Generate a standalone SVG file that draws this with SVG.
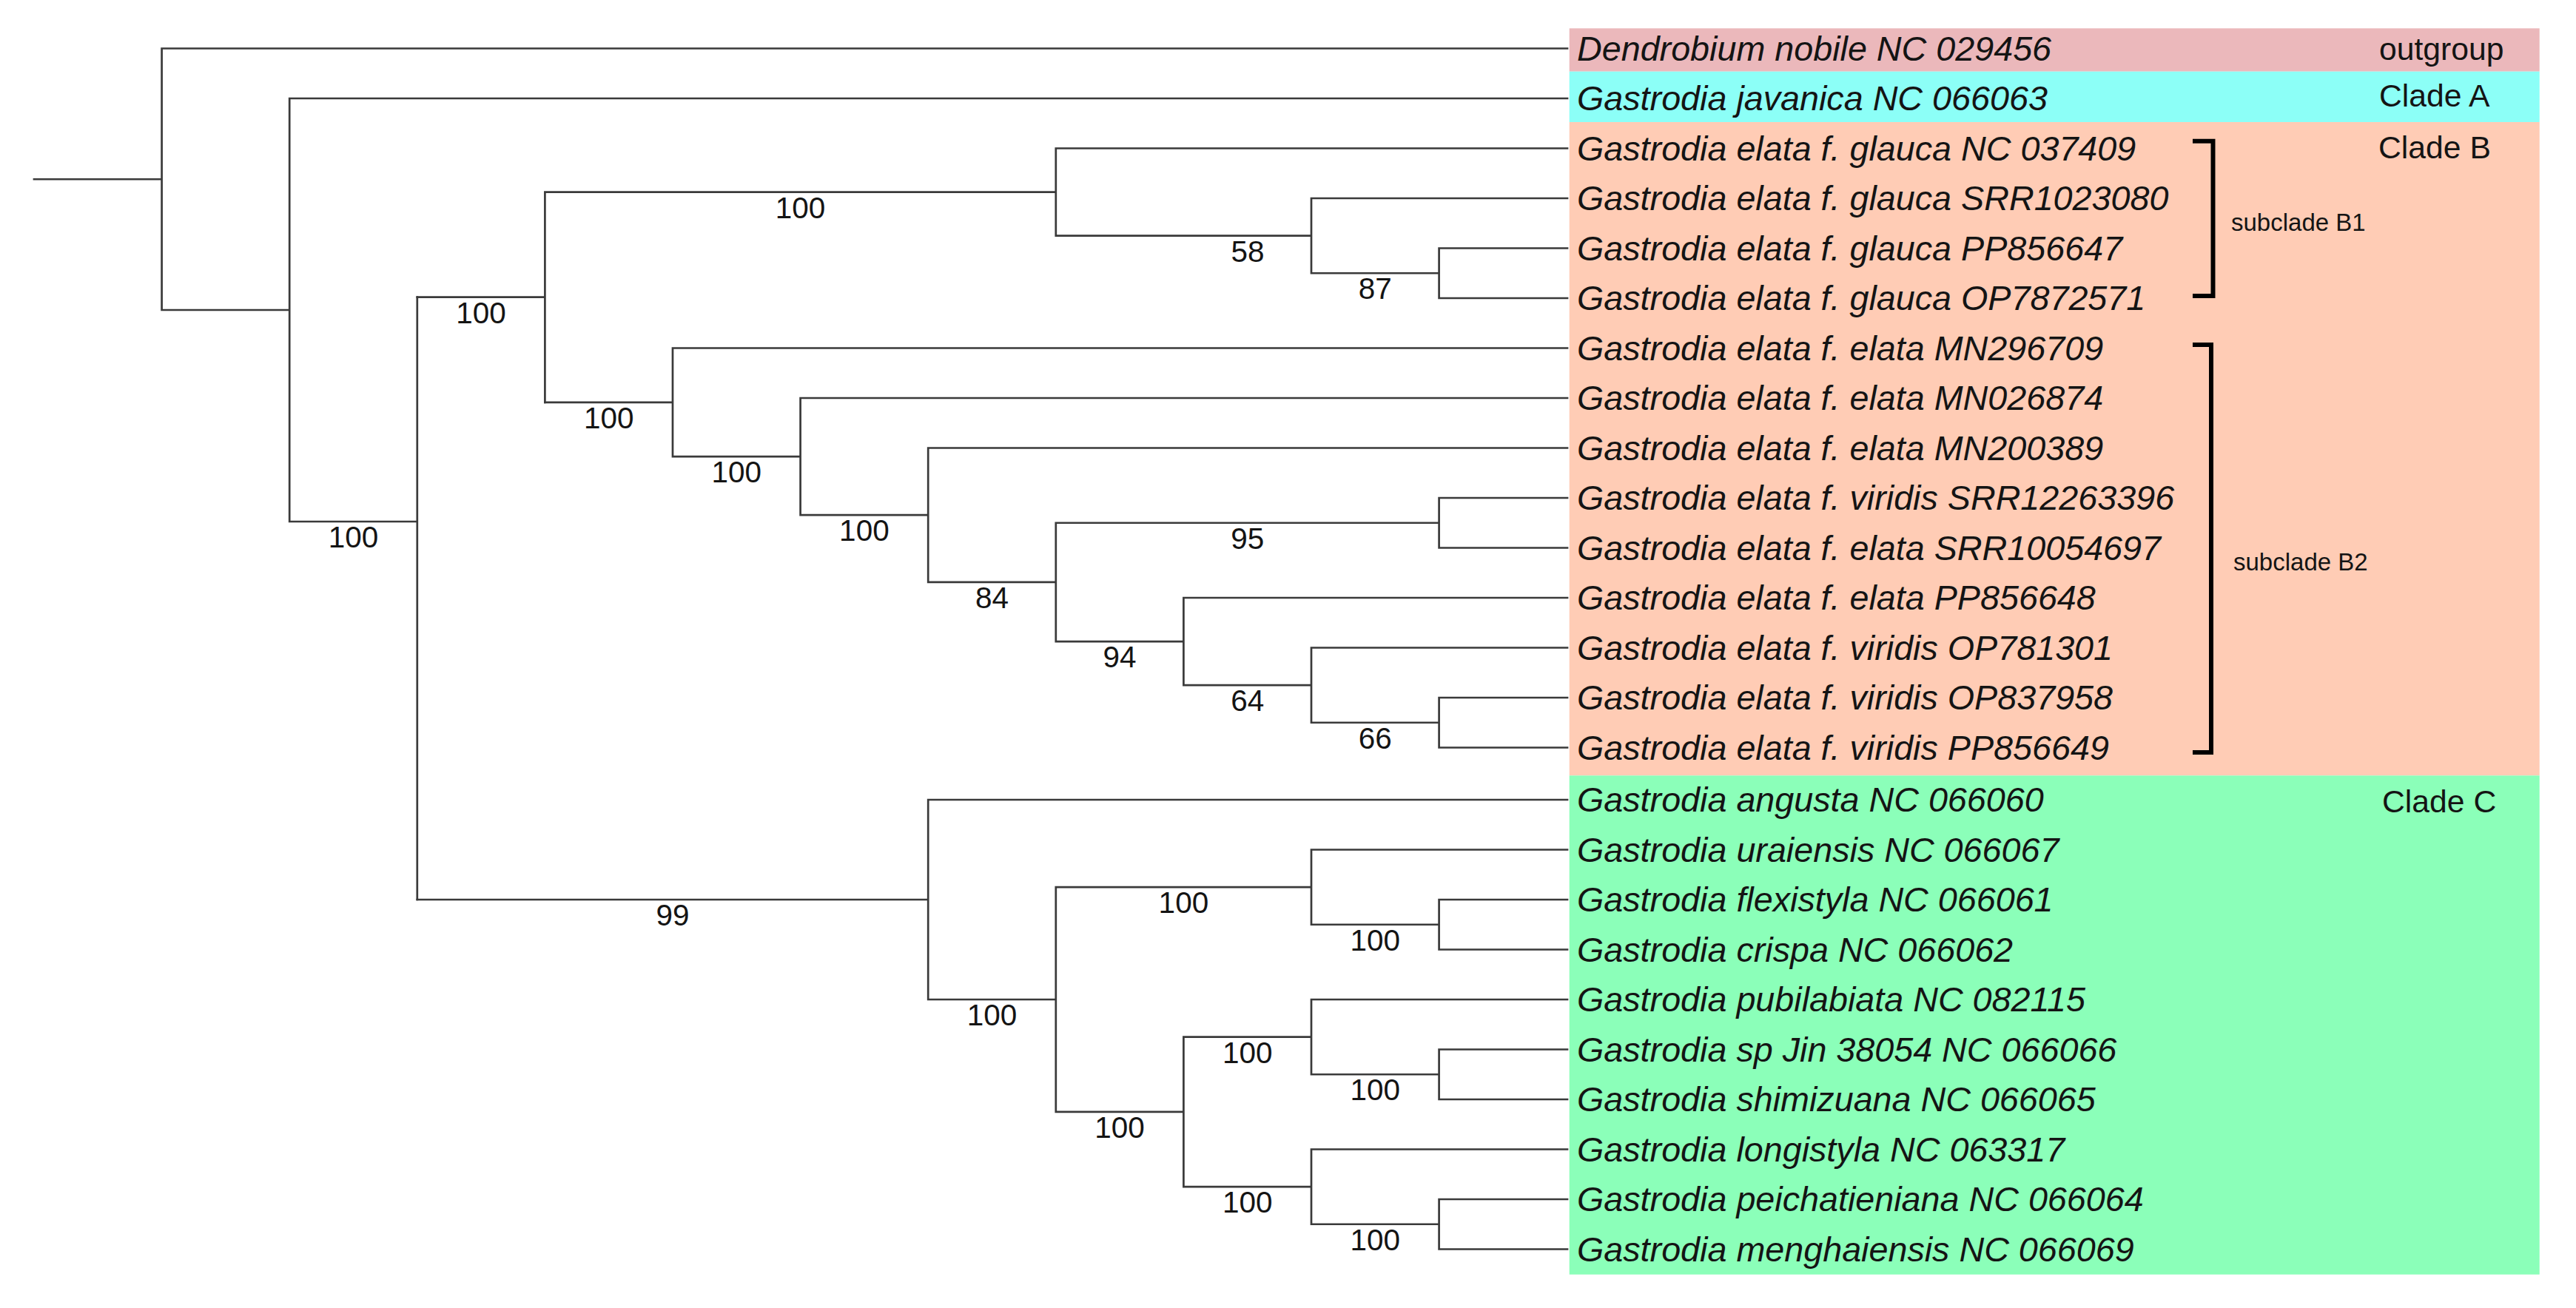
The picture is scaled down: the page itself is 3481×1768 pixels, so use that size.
<svg xmlns="http://www.w3.org/2000/svg" width="3481" height="1768" viewBox="0 0 3481 1768">
<style>
.br{fill:none;stroke:#3a3a3a;stroke-width:2.7;stroke-linecap:square}
.tx{font-family:"Liberation Sans",Arial,sans-serif;font-style:italic;font-size:46.7px;fill:#141414}
.bs{font-family:"Liberation Sans",Arial,sans-serif;font-size:40.5px;fill:#141414;text-anchor:middle}
.cl{font-family:"Liberation Sans",Arial,sans-serif;font-size:42.7px;fill:#141414}
.sc{font-family:"Liberation Sans",Arial,sans-serif;font-size:33px;fill:#141414}
.bk{fill:none;stroke:#000;stroke-width:6;stroke-linejoin:miter}
</style>
<rect width="3481" height="1768" fill="#ffffff"/>
<g id="clade-boxes">
<rect x="2120.7" y="38.3" width="1311" height="58.4" fill="#ebb8bb"/>
<rect x="2120.7" y="96.7" width="1311" height="68.3" fill="#8cfff7"/>
<rect x="2120.7" y="165" width="1311" height="883.3" fill="#ffccb5"/>
<rect x="2120.7" y="1048.3" width="1311" height="674.4" fill="#8bffb9"/>
</g>
<g id="connectors" class="br">
<path d="M46 242.25H218.6 M218.6 65.5V419 M218.6 65.5H2118 M218.6 419H391.2 M391.2 133V705 M391.2 133H2118 M391.2 705H563.8 M563.8 401.7V1216"/>
<path d="M563.8 401.7H736.4 M736.4 259.6V543.8 M736.4 259.6H1426.8 M1426.8 200.5V318.6 M1426.8 200.5H2118 M1426.8 318.6H1772 M1772 268V369.25 M1772 268H2118 M1772 369.25H1944.6 M1944.6 335.5V403 M1944.6 335.5H2118 M1944.6 403H2118"/>
<path d="M736.4 543.8H909 M909 470.5V617.1 M909 470.5H2118 M909 617.1H1081.6 M1081.6 538V696.2 M1081.6 538H2118 M1081.6 696.2H1254.2 M1254.2 605.5V786.9 M1254.2 605.5H2118 M1254.2 786.9H1426.8 M1426.8 706.75V867.1 M1426.8 706.75H1944.6 M1944.6 673V740.5 M1944.6 673H2118 M1944.6 740.5H2118 M1426.8 867.1H1599.4 M1599.4 808V926.1 M1599.4 808H2118 M1599.4 926.1H1772 M1772 875.5V976.75 M1772 875.5H2118 M1772 976.75H1944.6 M1944.6 943V1010.5 M1944.6 943H2118 M1944.6 1010.5H2118"/>
<path d="M563.8 1216H1254.2 M1254.2 1081V1351 M1254.2 1081H2118 M1254.2 1351H1426.8 M1426.8 1199.1V1502.9 M1426.8 1199.1H1772 M1772 1148.5V1249.75 M1772 1148.5H2118 M1772 1249.75H1944.6 M1944.6 1216V1283.5 M1944.6 1216H2118 M1944.6 1283.5H2118 M1426.8 1502.9H1599.4 M1599.4 1401.6V1604.1 M1599.4 1401.6H1772 M1772 1351V1452.25 M1772 1351H2118 M1772 1452.25H1944.6 M1944.6 1418.5V1486 M1944.6 1418.5H2118 M1944.6 1486H2118 M1599.4 1604.1H1772 M1772 1553.5V1654.75 M1772 1553.5H2118 M1772 1654.75H1944.6 M1944.6 1621V1688.5 M1944.6 1621H2118 M1944.6 1688.5H2118"/>
</g>
<g id="support-values" class="bs">
<text x="477.5" y="740">100</text>
<text x="650.1" y="436.7">100</text>
<text x="1081.6" y="294.6">100</text>
<text x="1686" y="353.6">58</text>
<text x="1858.3" y="404.25">87</text>
<text x="822.7" y="578.8">100</text>
<text x="995.3" y="652.1">100</text>
<text x="1167.9" y="731.2">100</text>
<text x="1340.5" y="821.9">84</text>
<text x="1685.7" y="741.75">95</text>
<text x="1513.1" y="902.1">94</text>
<text x="1685.7" y="961.1">64</text>
<text x="1858.3" y="1011.75">66</text>
<text x="909" y="1251">99</text>
<text x="1340.5" y="1386">100</text>
<text x="1599.4" y="1234.1">100</text>
<text x="1858.3" y="1284.75">100</text>
<text x="1513.1" y="1537.9">100</text>
<text x="1685.7" y="1436.6">100</text>
<text x="1858.3" y="1487.25">100</text>
<text x="1685.7" y="1639.1">100</text>
<text x="1858.3" y="1689.75">100</text>
</g>
<g id="taxa" class="tx">
<g id="t0"><text x="2131" y="81.5">Dendrobium nobile NC 029456</text></g>
<g id="t1"><text x="2131" y="149">Gastrodia javanica NC 066063</text></g>
<g id="t2"><text x="2131" y="216.5">Gastrodia elata f. glauca NC 037409</text></g>
<g id="t3"><text x="2131" y="284">Gastrodia elata f. glauca SRR1023080</text></g>
<g id="t4"><text x="2131" y="351.5">Gastrodia elata f. glauca PP856647</text></g>
<g id="t5"><text x="2131" y="419">Gastrodia elata f. glauca OP7872571</text></g>
<g id="t6"><text x="2131" y="486.5">Gastrodia elata f. elata MN296709</text></g>
<g id="t7"><text x="2131" y="554">Gastrodia elata f. elata MN026874</text></g>
<g id="t8"><text x="2131" y="621.5">Gastrodia elata f. elata MN200389</text></g>
<g id="t9"><text x="2131" y="689">Gastrodia elata f. viridis SRR12263396</text></g>
<g id="t10"><text x="2131" y="756.5">Gastrodia elata f. elata SRR10054697</text></g>
<g id="t11"><text x="2131" y="824">Gastrodia elata f. elata PP856648</text></g>
<g id="t12"><text x="2131" y="891.5">Gastrodia elata f. viridis OP781301</text></g>
<g id="t13"><text x="2131" y="959">Gastrodia elata f. viridis OP837958</text></g>
<g id="t14"><text x="2131" y="1026.5">Gastrodia elata f. viridis PP856649</text></g>
<g id="t15"><text x="2131" y="1097">Gastrodia angusta NC 066060</text></g>
<g id="t16"><text x="2131" y="1164.5">Gastrodia uraiensis NC 066067</text></g>
<g id="t17"><text x="2131" y="1232">Gastrodia flexistyla NC 066061</text></g>
<g id="t18"><text x="2131" y="1299.5">Gastrodia crispa NC 066062</text></g>
<g id="t19"><text x="2131" y="1367">Gastrodia pubilabiata NC 082115</text></g>
<g id="t20"><text x="2131" y="1434.5">Gastrodia sp Jin 38054 NC 066066</text></g>
<g id="t21"><text x="2131" y="1502">Gastrodia shimizuana NC 066065</text></g>
<g id="t22"><text x="2131" y="1569.5">Gastrodia longistyla NC 063317</text></g>
<g id="t23"><text x="2131" y="1637">Gastrodia peichatieniana NC 066064</text></g>
<g id="t24"><text x="2131" y="1704.5">Gastrodia menghaiensis NC 066069</text></g>
</g>
<g id="clade-labels" class="cl">
<text x="3215" y="81">outgroup</text>
<text x="3215" y="144">Clade A</text>
<text x="3214" y="214">Clade B</text>
<text x="3219" y="1098">Clade C</text>
</g>
<g id="subclade-B1">
<path class="bk" d="M2963 190.7H2990.5V400H2963"/>
<text class="sc" x="3015" y="312">subclade B1</text>
</g>
<g id="subclade-B2">
<path class="bk" d="M2963 466H2988V1017H2963"/>
<text class="sc" x="3018" y="771">subclade B2</text>
</g>
</svg>
